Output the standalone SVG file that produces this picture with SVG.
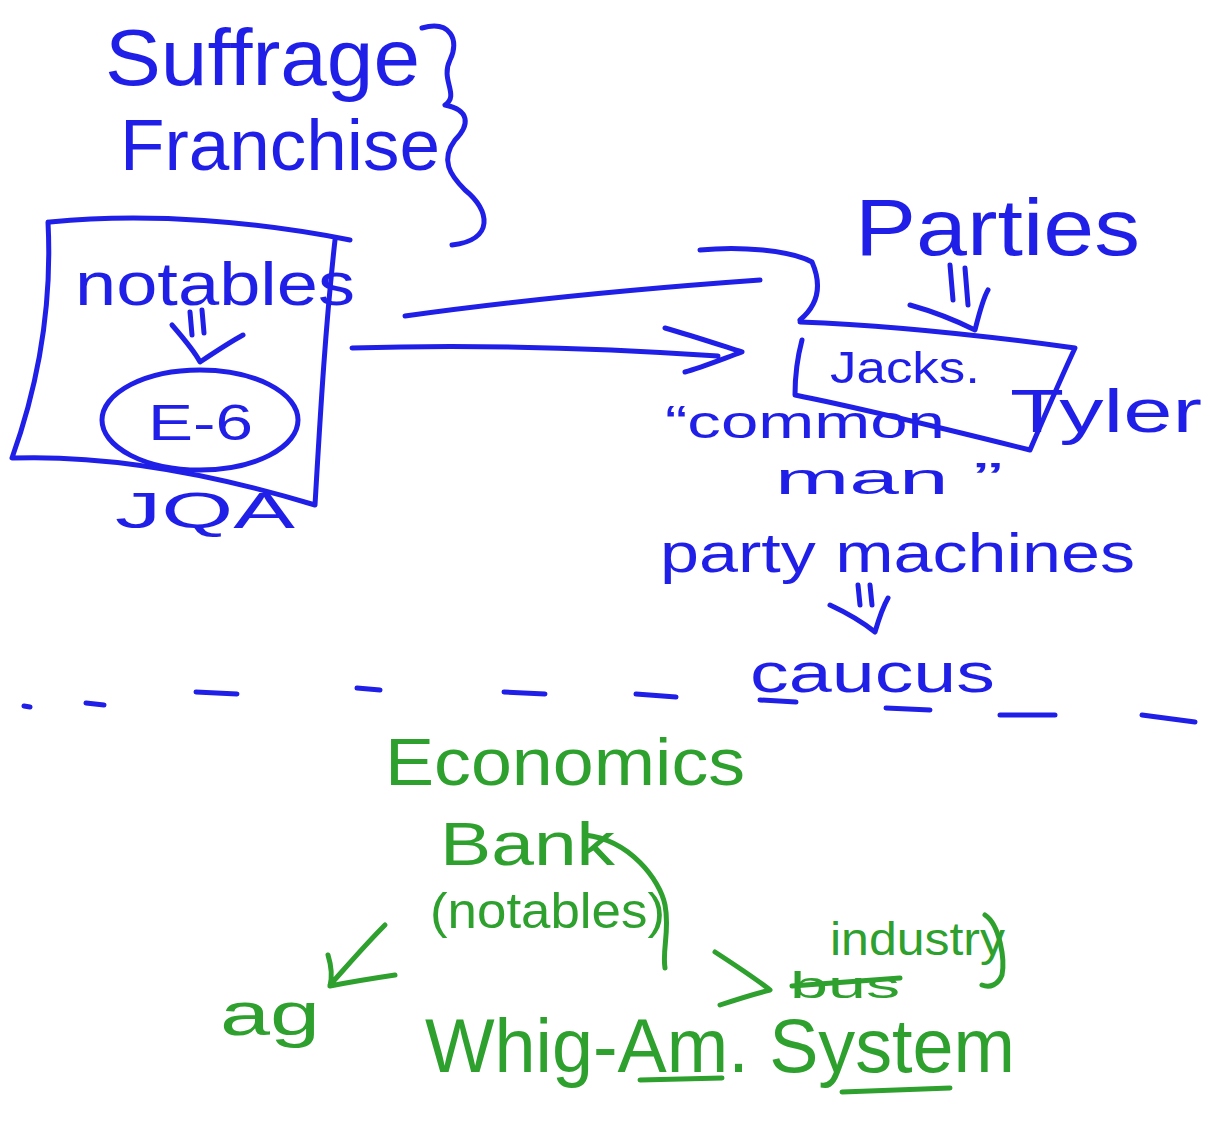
<svg xmlns="http://www.w3.org/2000/svg" width="1210" height="1127" viewBox="0 0 1210 1127">
<style>
.b{fill:#1f1fe8;font-family:"Liberation Sans",Arial,sans-serif;}
.g{fill:#2ea02e;font-family:"Liberation Sans",Arial,sans-serif;}
.bl{fill:none;stroke:#1f1fe8;stroke-width:5;stroke-linecap:round;stroke-linejoin:round;}
.gl{fill:none;stroke:#2ea02e;stroke-width:5;stroke-linecap:round;stroke-linejoin:round;}
</style>
<rect width="1210" height="1127" fill="#ffffff"/>
<g id="title">
<text class="b" x="105" y="85" font-size="80" textLength="315" lengthAdjust="spacingAndGlyphs">Suffrage</text>
<text class="b" x="120" y="170" font-size="72" textLength="320" lengthAdjust="spacingAndGlyphs">Franchise</text>
<path class="bl" d="M422,28 C450,20 460,40 450,60 C440,80 460,95 445,105 C470,110 470,125 455,140 C440,160 450,175 465,190 C490,210 495,240 452,245"/>
</g>
<g id="jqa">
<path class="bl" d="M50,222 C150,212 260,222 350,240 M48,222 C52,300 40,380 12,458 C100,455 200,470 315,505 C320,420 325,330 335,240"/>
<text class="b" x="75" y="305" font-size="62" textLength="280" lengthAdjust="spacingAndGlyphs">notables</text>
<path class="bl" d="M190,312 L192,335 M202,310 L204,333 M172,325 C185,340 195,352 200,362 C215,352 230,342 243,335"/>
<ellipse class="bl" cx="200" cy="420" rx="98" ry="50"/>
<text class="b" x="148" y="440" font-size="50" textLength="105" lengthAdjust="spacingAndGlyphs">E-6</text>
<text class="b" x="115" y="528" font-size="50" textLength="180" lengthAdjust="spacingAndGlyphs">JQA</text>
</g>
<g id="connectors">
<path class="bl" d="M405,316 C520,300 620,290 760,280 M700,250 C740,246 790,250 812,262 C822,285 818,305 800,320"/>
<path class="bl" d="M352,348 C480,344 600,348 718,356 M665,328 C690,335 720,345 742,352 C720,360 700,368 685,372"/>
</g>
<g id="parties">
<text class="b" x="855" y="255" font-size="80" textLength="285" lengthAdjust="spacingAndGlyphs">Parties</text>
<path class="bl" d="M950,265 L953,300 M965,268 L968,305 M910,305 C935,312 955,320 975,330 C980,310 985,295 988,290"/>
<path class="bl" d="M800,322 C880,325 980,335 1075,348 C1060,380 1045,415 1030,450 C950,430 870,410 795,395 C795,375 798,355 802,340"/>
<text class="b" x="830" y="383" font-size="44" textLength="150" lengthAdjust="spacingAndGlyphs">Jacks.</text>
<text class="b" x="1010" y="432" font-size="62" textLength="192" lengthAdjust="spacingAndGlyphs">Tyler</text>
<text class="b" x="665" y="438" font-size="46" textLength="280" lengthAdjust="spacingAndGlyphs">“common</text>
<text class="b" x="775" y="494" font-size="44" textLength="228" lengthAdjust="spacingAndGlyphs">man        ”</text>
</g>
<g id="machines">
<text class="b" x="660" y="572" font-size="56" textLength="475" lengthAdjust="spacingAndGlyphs">party machines</text>
<path class="bl" d="M858,585 L860,605 M870,585 L872,605 M830,605 C845,612 860,620 875,632 C880,615 884,605 888,598"/>
<text class="b" x="750" y="692" font-size="56" textLength="245" lengthAdjust="spacingAndGlyphs">caucus</text>
</g>
<g id="divider">
<path class="bl" d="M24,706 L30,707 M86,703 L104,705 M196,692 L237,694 M357,688 L380,690 M504,692 L545,694 M636,694 L676,697 M760,700 L796,702 M886,708 L930,710 M1000,715 L1055,715 M1142,715 L1195,722"/>
</g>
<g id="economics">
<text class="g" x="385" y="785" font-size="66" textLength="360" lengthAdjust="spacingAndGlyphs">Economics</text>
<text class="g" x="440" y="865" font-size="62" textLength="175" lengthAdjust="spacingAndGlyphs">Bank</text>
<text class="g" x="430" y="928" font-size="50" textLength="235" lengthAdjust="spacingAndGlyphs">(notables)</text>
<path class="gl" d="M585,835 C630,840 660,880 665,905 C670,930 662,950 665,968 M715,952 C735,965 755,978 770,990 C750,995 735,1000 720,1005"/>
<text class="g" x="830" y="955" font-size="46" textLength="175" lengthAdjust="spacingAndGlyphs">industry</text>
<path class="gl" d="M985,915 C1000,925 1005,960 1002,975 C998,985 990,988 982,985"/>
<text class="g" x="790" y="998" font-size="36" textLength="110" lengthAdjust="spacingAndGlyphs">bus</text>
<path class="gl" d="M792,986 L900,978"/>
<path class="gl" d="M385,925 C365,945 348,965 330,985 M328,955 C332,968 332,978 330,986 C350,982 375,978 395,975"/>
<text class="g" x="220" y="1035" font-size="62" textLength="100" lengthAdjust="spacingAndGlyphs">ag</text>
<text class="g" x="425" y="1072" font-size="76" textLength="590" lengthAdjust="spacingAndGlyphs">Whig-Am. System</text>
<path class="gl" d="M640,1080 L722,1078 M842,1092 L950,1088"/>
</g>
</svg>
